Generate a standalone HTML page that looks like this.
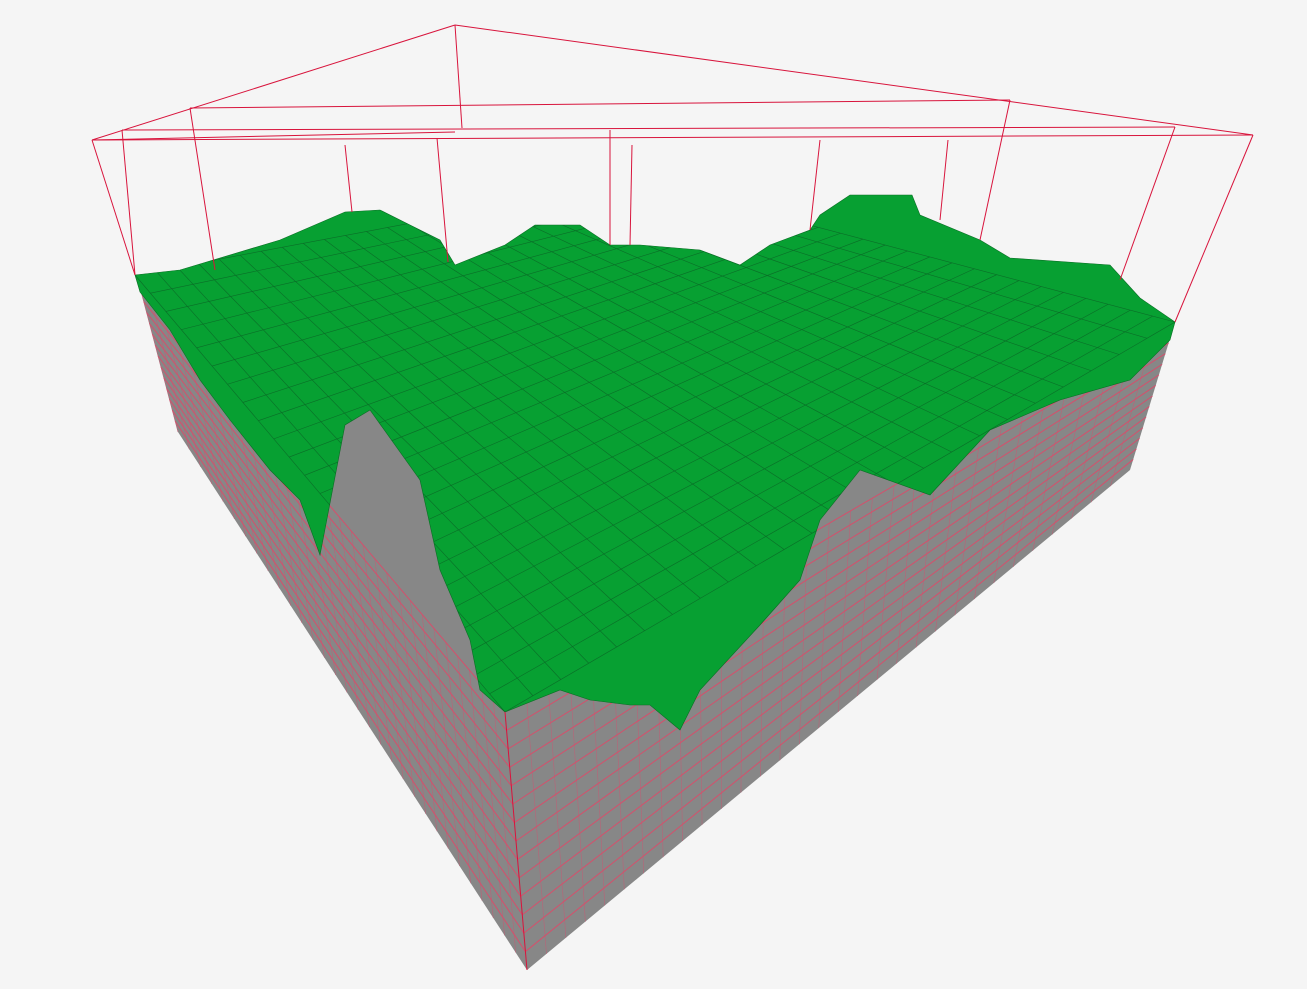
<!DOCTYPE html>
<html><head><meta charset="utf-8"><style>
html,body{margin:0;padding:0;background:#f5f5f5;}
svg{display:block;}
</style></head><body>
<svg id="scene" width="1307" height="989" viewBox="0 0 1307 989">
<defs>
<clipPath id="greenclip"><polygon id="gclipPoly" points=""/></clipPath>
</defs>
<rect width="1307" height="989" fill="#f5f5f5"/>
<g id="faces"></g>
<polygon id="green" fill="#07a032" stroke="#0a6e24" stroke-width="0.6" points=""/>
<g id="greengrid" clip-path="url(#greenclip)"></g>
<g id="wire" stroke="#d8143c" stroke-width="1" fill="none"></g>
</svg>
<script>
const NS='http://www.w3.org/2000/svg';
const faces=document.getElementById('faces');
const rows=[0,1,2,3,4,5,6,7,8,9,10,11,12,13];
const cols=[0,1,2,3,4,5,6,7,8,9,10,11,12,13,14,15,16,17,18,19,20,21,22,23,24,25,26,27,28,29,30];
const greenPts="135,275 180,270 280,240 345,212 380,210 410,225 440,240 455,265 505,245 535,225 580,225 610,245 640,245 700,250 740,265 770,245 810,230 820,215 850,195 912,195 920,215 980,240 1010,258 1110,265 1140,298 1175,322 1170,340 1130,380 1060,400 990,430 930,495 860,470 820,520 800,580 760,625 700,690 680,730 650,705 630,705 590,700 560,690 505,712 480,690 470,640 440,570 420,480 370,410 345,425 320,555 300,500 270,470 230,420 200,380 170,330 140,292";
document.getElementById('green').setAttribute('points',greenPts);
document.getElementById('gclipPoly').setAttribute('points',greenPts);
function poly(pts,fill,name){const p=document.createElementNS(NS,'polygon');p.setAttribute('points',pts.map(q=>q.join(',')).join(' '));p.setAttribute('fill',fill);


faces.appendChild(p);}
function line(g,a,b,c,w,name){const l=document.createElementNS(NS,'line');l.setAttribute('x1',a[0]);l.setAttribute('y1',a[1]);l.setAttribute('x2',b[0]);l.setAttribute('y2',b[1]);l.setAttribute('stroke',c);l.setAttribute('stroke-width',w);


g.appendChild(l);}
const lerp=(a,b,t)=>[a[0]+(b[0]-a[0])*t,a[1]+(b[1]-a[1])*t];
const A=[138,280],B=[178,432],C=[527,970],D=[505,712];
const F=[1175,322],E=[1130,470];
poly([A,[600,260],F,E,C,B],'#878787','walls-base');
cols.forEach(c=>{const t=c/cols.length;line(faces,lerp(A,D,t),lerp(B,C,t),'#b86478',0.6,'left-wall-col');line(faces,lerp(D,F,t),lerp(C,E,t),'#b86478',0.6,'right-wall-col');});
rows.forEach(r=>{const t=r/rows.length;line(faces,lerp(A,B,t),lerp(D,C,t),'#d4506c',1,'left-wall-row');line(faces,lerp(D,C,t),lerp(F,E,t),'#d4506c',1,'right-wall-row');});
const gg=document.getElementById('greengrid');
const TL=[135,275],BK=[640,180];
for(let i=0;i<=24;i++){const t=i/24;
 line(gg,lerp(TL,D,t),lerp(BK,F,t),'#0b6e28',0.6,'terrain-row');
 line(gg,lerp(D,F,t),lerp(TL,BK,t),'#0b6e28',0.6,'terrain-col');}
const wire=document.getElementById('wire');
const W=[[[455,25],[92,140]],[[455,25],[1253,135]],[[92,140],[135,275]],[[1253,135],[1175,322]],
[[92,140],[1253,135]],[[122,130],[1175,127]],[[190,108],[1010,100]],[[455,25],[462,128]],
[[122,130],[135,275]],[[190,108],[215,270]],[[345,145],[352,212]],[[437,138],[448,262]],
[[610,130],[610,245]],[[632,145],[630,245]],[[820,140],[810,230]],[[948,140],[940,220]],
[[1010,100],[980,240]],[[1175,127],[1120,280]],[[92,140],[455,132]],[[505,712],[527,970]]];
W.forEach(s=>line(wire,s[0],s[1],'#d8143c',1,'bounding-box-edge'));
</script>
</body></html>
